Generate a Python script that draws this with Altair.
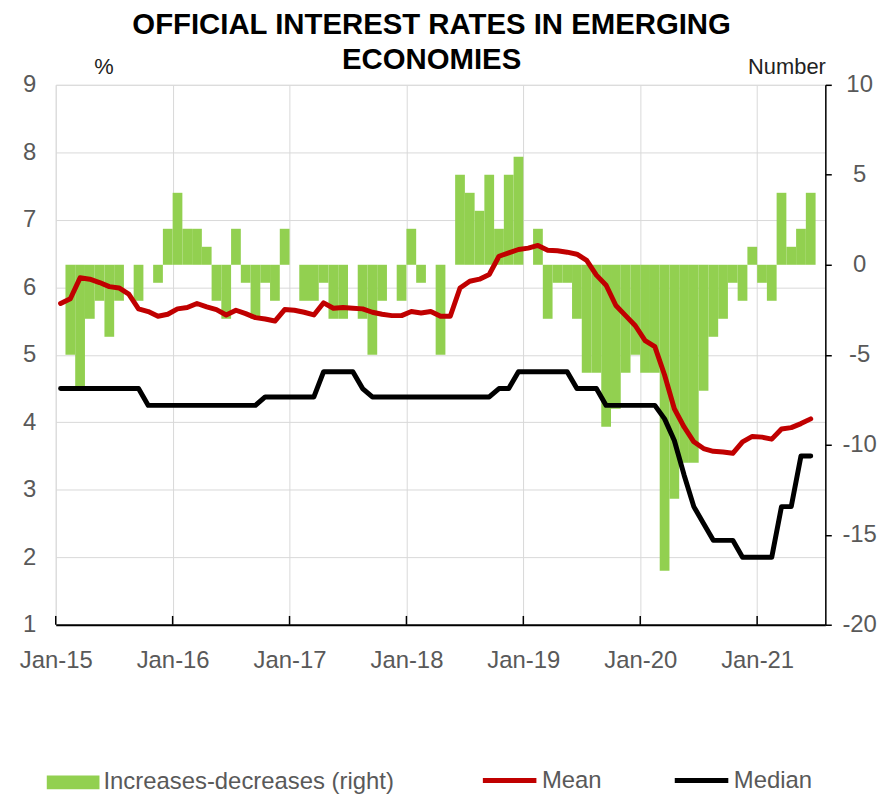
import altair as alt
import pandas as pd

# ---- data (monthly, Jan-15 .. Jun-21) ----
year_labels = ["Jan-15", "Jan-16", "Jan-17", "Jan-18", "Jan-19", "Jan-20", "Jan-21"]
year_tick_index = [0, 12, 24, 36, 48, 60, 72]

changes = [0, -5, -7, -3, -2, -4, -2, 0, -2, 0, -1, 2,
           4, 2, 2, 1, -2, -3, 2, -1, -3, -1, -2, 2,
           0, -2, -2, -1, -3, -3, 0, -3, -5, -2, 0, -2,
           2, -1, 0, -5, 0, 5, 4, 3, 5, 2, 5, 6,
           0, 2, -3, -1, -1, -3, -6, -6, -9, -8, -6, -5,
           -6, -6, -17, -13, -11, -11, -7, -4, -3, -1, -2, 1,
           -1, -2, 4, 1, 2, 4]

mean = [5.76, 5.83, 6.14, 6.12, 6.07, 6.01, 5.99, 5.90, 5.68, 5.64, 5.57, 5.60,
        5.68, 5.70, 5.76, 5.71, 5.67, 5.59, 5.66, 5.61, 5.55, 5.53, 5.50, 5.67,
        5.66, 5.63, 5.59, 5.77, 5.69, 5.70, 5.69, 5.68, 5.63, 5.60, 5.58, 5.58,
        5.64, 5.62, 5.64, 5.57, 5.57, 5.99, 6.09, 6.12, 6.19, 6.46, 6.51, 6.56,
        6.58, 6.62, 6.55, 6.54, 6.52, 6.49, 6.40, 6.18, 6.03, 5.73, 5.58, 5.43,
        5.21, 5.12, 4.70, 4.20, 3.93, 3.71, 3.61, 3.57, 3.56, 3.54, 3.71, 3.79,
        3.78, 3.75, 3.90, 3.92, 3.98, 4.05]

median = [4.5, 4.5, 4.5, 4.5, 4.5, 4.5, 4.5, 4.5, 4.5, 4.25, 4.25, 4.25,
          4.25, 4.25, 4.25, 4.25, 4.25, 4.25, 4.25, 4.25, 4.25, 4.375, 4.375, 4.375,
          4.375, 4.375, 4.375, 4.75, 4.75, 4.75, 4.75, 4.5, 4.375, 4.375, 4.375, 4.375,
          4.375, 4.375, 4.375, 4.375, 4.375, 4.375, 4.375, 4.375, 4.375, 4.5, 4.5, 4.75,
          4.75, 4.75, 4.75, 4.75, 4.75, 4.5, 4.5, 4.5, 4.25, 4.25, 4.25, 4.25,
          4.25, 4.25, 4.05, 3.73, 3.22, 2.75, 2.5, 2.25, 2.25, 2.25, 2.0, 2.0,
          2.0, 2.0, 2.75, 2.75, 3.5, 3.5]

n = len(changes)
bars_df = pd.DataFrame({
    "i": list(range(n)),
    "i1": [k + 1 for k in range(n)],
    "v": changes,
    "base": [0] * n,
    "series": ["Increases-decreases (right)"] * n,
})
lines_df = pd.DataFrame({
    "xc": [k + 0.5 for k in range(n)] * 2,
    "v": mean + median,
    "series": ["Mean"] * n + ["Median"] * n,
})
ticks_df = pd.DataFrame({"x": year_tick_index, "y0": [1] * 7, "y1": [1.13] * 7})

FONT = "Liberation Sans"
GRAY = "#595959"

label_expr = "['" + "','".join(year_labels) + "'][datum.value / 12]"
x_axis = alt.Axis(values=year_tick_index, labelExpr=label_expr, grid=True,
                  gridColor="#d9d9d9", gridWidth=1, ticks=False, tickSize=0,
                  domainColor="black", domainWidth=2, labelFontSize=24,
                  labelColor=GRAY, labelPadding=24, labelFont=FONT, title=None,
                  labelFlush=False, labelOverlap=False)
x_scale = alt.Scale(domain=[0, 79], nice=False, zero=False)

bars = alt.Chart(bars_df).mark_bar(color="#92D050").encode(
    x=alt.X("i:Q", scale=x_scale, axis=x_axis),
    x2="i1:Q",
    y=alt.Y("v:Q", scale=alt.Scale(domain=[-20, 10], nice=False),
            axis=alt.Axis(orient="right", values=[-20, -15, -10, -5, 0, 5, 10],
                          labelExpr="'' + datum.value",
                          grid=False, domainColor="black", domainWidth=1.5,
                          tickColor="black", tickSize=6, tickWidth=1.5,
                          labelAlign="center", labelPadding=28, labelFontSize=24,
                          labelColor=GRAY, labelFont=FONT, labelFlush=False,
                          labelOverlap=False,
                          title="Number", titleAngle=0, titleAlign="right",
                          titleBaseline="bottom", titleX=0, titleY=-6,
                          titleFontSize=22, titleFontWeight="normal",
                          titleColor="#222222", titleFont=FONT)),
    y2="base:Q",
    fill=alt.Fill("series:N",
                  scale=alt.Scale(domain=["Increases-decreases (right)"], range=["#92D050"]),
                  legend=alt.Legend(orient="none", legendX=-9, legendY=675, title=None,
                                    symbolType="M-1,-0.26H1V0.26H-1Z", symbolSize=2809,
                                    symbolStrokeWidth=0, symbolOpacity=1,
                                    labelFontSize=24, labelColor=GRAY, labelLimit=0,
                                    labelFont=FONT, labelOffset=4, padding=0)),
)

lines = alt.Chart(lines_df).mark_line(strokeWidth=5, strokeCap="round", strokeJoin="round").encode(
    x=alt.X("xc:Q", scale=x_scale, axis=x_axis),
    y=alt.Y("v:Q", scale=alt.Scale(domain=[1, 9], nice=False, zero=False),
            axis=alt.Axis(orient="left", values=[1, 2, 3, 4, 5, 6, 7, 8, 9],
                          format="d", labelFlush=False, labelOverlap=False,
                          grid=True, gridColor="#d9d9d9", gridWidth=1,
                          domain=False, ticks=False, tickSize=0,
                          labelPadding=20, labelFontSize=24, labelColor=GRAY,
                          labelFont=FONT, title="%", titleAngle=0, titleAlign="center",
                          titleBaseline="bottom", titleX=48, titleY=-6,
                          titleFontSize=22, titleFontWeight="normal",
                          titleColor="#222222", titleFont=FONT)),
    stroke=alt.Stroke("series:N",
                      scale=alt.Scale(domain=["Mean", "Median"], range=["#C00000", "#000000"]),
                      legend=alt.Legend(orient="none", legendX=427, legendY=670,
                                        direction="horizontal", title=None,
                                        symbolType="stroke", symbolSize=2900,
                                        symbolStrokeWidth=5, labelFontSize=24,
                                        labelColor=GRAY, labelFont=FONT, labelOffset=3,
                                        labelLimit=0, columnPadding=62, padding=0)),
)

ticks = alt.Chart(ticks_df).mark_rule(color="black", strokeWidth=1.5).encode(
    x=alt.X("x:Q", scale=x_scale, axis=x_axis),
    y="y0:Q",
    y2="y1:Q",
)

left_layer = alt.layer(lines, ticks)

chart = alt.layer(bars, left_layer).resolve_scale(y="independent").resolve_axis(y="independent").properties(
    width=774,
    height=543,
    autosize=alt.AutoSizeParams(type="none"),
    padding={"left": 48, "top": 75, "right": 58, "bottom": 170},
    title=alt.TitleParams(text=["OFFICIAL INTEREST RATES IN EMERGING", "ECONOMIES"],
                          fontSize=29.5, font=FONT, fontWeight="bold", color="black",
                          anchor="middle", dx=-9, dy=28, offset=8, lineHeight=36),
).configure_view(stroke=None).configure(background="white")

chart.save("out.html", embed_options={"renderer": "svg", "actions": False})
